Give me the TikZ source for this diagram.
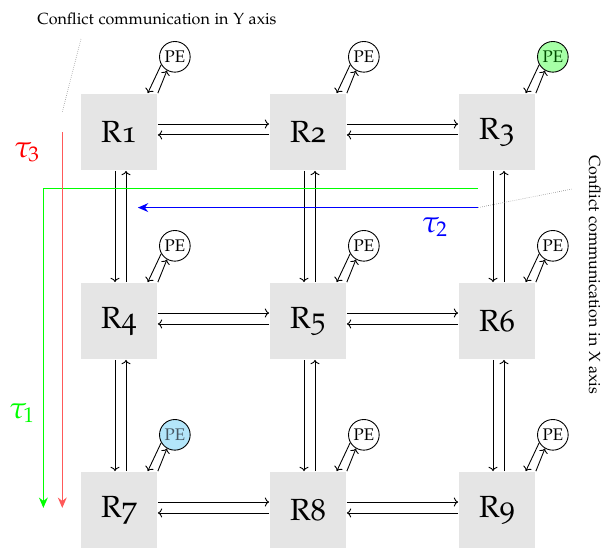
\documentclass[tikz,border=0pt]{standalone}
\usepackage[T1]{fontenc}
\usepackage[osf]{mathpazo}
\usetikzlibrary{positioning,arrows.meta}
\begin{document}
\begin{tikzpicture}[semithick,
  router/.style={fill=gray!20, minimum size=1.83cm, inner sep=0pt, font=\huge},
  pe/.style={draw, circle, minimum size=0.73cm, inner sep=0pt, font=\fontsize{11.4}{13}\selectfont},
  note/.style={font=\fontsize{10.9}{13}\selectfont},
  task/.style={thick, -{Stealth[length=7pt,width=6pt]}}]
\useasboundingbox (-2.833,3.143) rectangle (11.524,-9.881);
% routers and their PEs
\foreach \n/\x/\y in {1/0/0,2/4.5/0,3/9/0,4/0/-4.5,5/4.5/-4.5,6/9/-4.5,7/0/-9,8/4.5/-9,9/9/-9}
  \node[router] (r\n) at (\x,\y) {R\n};
\foreach \n in {1,2,4,5,6,8,9}
  \node[pe] (pe\n) at ([shift={(1.33,1.79)}]r\n) {PE};
\node[pe, fill=green!35, text=green!30!black] (pe3) at ([shift={(1.33,1.79)}]r3) {PE};
\node[pe, fill=cyan!30, text=cyan!30!black] (pe7) at ([shift={(1.33,1.79)}]r7) {PE};
\foreach \n in {1,...,9}{
  \draw[->] (pe\n.210) -- ([xshift=-0.24cm]r\n.north east);
  \draw[->] (r\n.north east) -- (pe\n.240);
}
% links in X
\foreach \a/\b in {1/2,2/3,4/5,5/6,7/8,8/9}{
  \draw[->] ([yshift=0.19cm]r\a.east) -- ([yshift=0.19cm]r\b.west);
  \draw[->] ([yshift=-0.07cm]r\b.west) -- ([yshift=-0.07cm]r\a.east);
}
% links in Y
\foreach \a/\b in {1/4,2/5,3/6,4/7,5/8,6/9}{
  \draw[->] ([xshift=-0.095cm]r\a.south) -- ([xshift=-0.095cm]r\b.north);
  \draw[->] ([xshift=0.167cm]r\b.north) -- ([xshift=0.167cm]r\a.south);
}
% tasks
\coordinate (g0) at (8.55,-1.35);
\coordinate (g1) at (-1.8,-8.95);
\coordinate (rd0) at (-1.35,0);
\coordinate (rd1) at (-1.35,-8.95);
\coordinate (b0) at (8.55,-1.8);
\coordinate (b1) at (0.45,-1.8);
\draw[green, task] (g0) -| (g1);
\draw[red!65, task] (rd0) -- (rd1);
\draw[blue, task] (b0) -- (b1);
\node[red, font=\huge] (t3) at (-2.19,-0.48) {$\tau_3$};
\node[green, font=\huge] (t1) at (-2.31,-6.69) {$\tau_1$};
\node[blue, font=\huge] (t2) at (7.52,-2.26) {$\tau_2$};
% conflicts
\node[note] (ytext) at (0.905,2.69) {Conflict communication in Y axis};
\node[note, rotate=-90] (xtext) at (11.33,-3.40) {Conflict communication in X axis};
\coordinate (ya) at (-0.905,2.214);
\coordinate (yb) at (-1.357,0.452);
\coordinate (xa) at (10.79,-1.357);
\draw[gray, thin, densely dotted] (ya) -- (yb);
\draw[gray, thin, densely dotted] (b0) -- (xa);
\end{tikzpicture}
\end{document}
